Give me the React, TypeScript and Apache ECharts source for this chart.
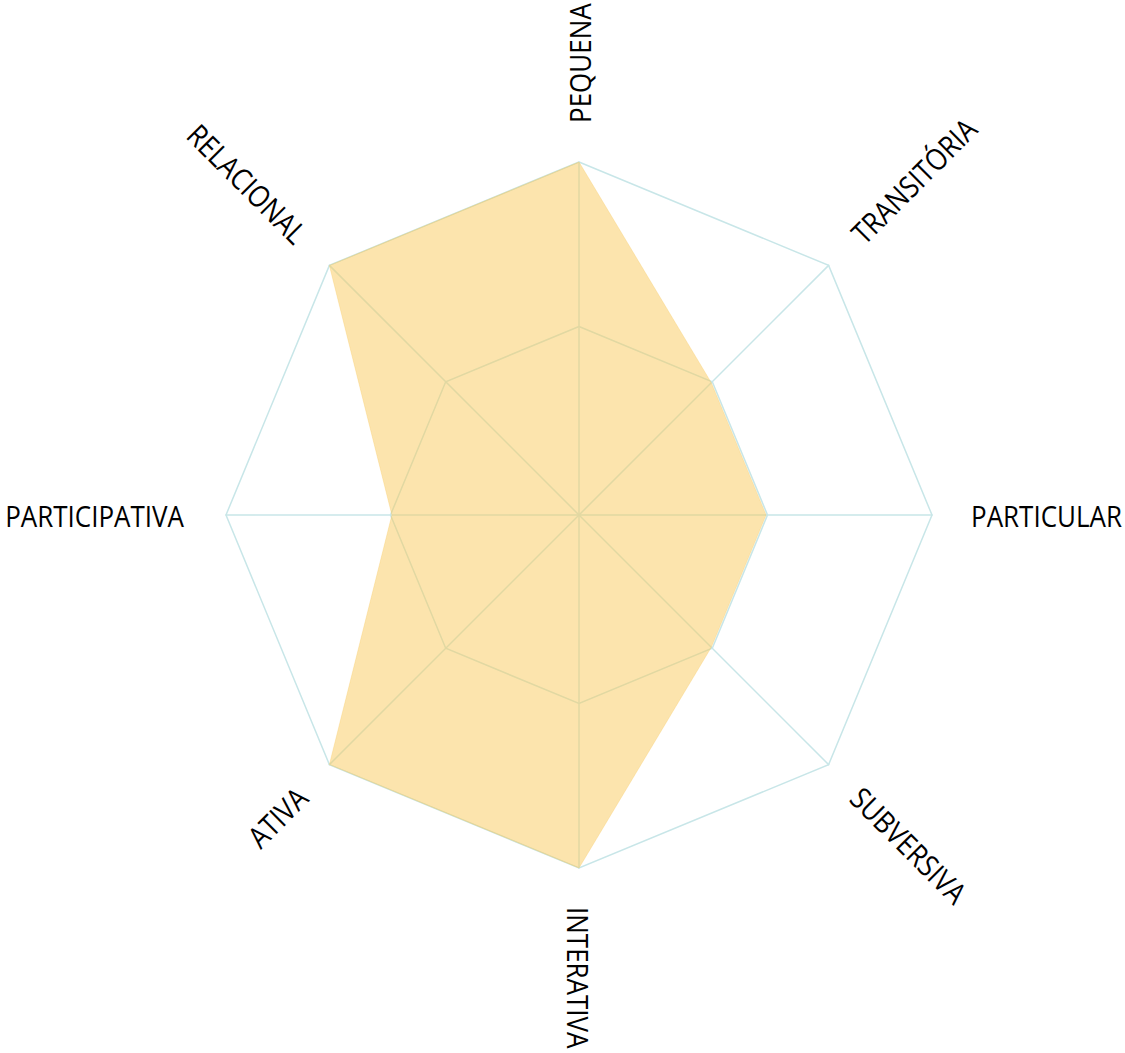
import React, { useEffect, useRef } from "react";
import * as echarts from "echarts";

// Indicators listed counter-clockwise starting from the top (ECharts radar order)
const indicators = [
  "PEQUENA",
  "RELACIONAL",
  "PARTICIPATIVA",
  "ATIVA",
  "INTERATIVA",
  "SUBVERSIVA",
  "PARTICULAR",
  "TRANSITÓRIA",
];
const values = [1, 1, 0.53, 1, 1, 0.53, 0.53, 0.53];
const axisMax = 1;
const innerRingValue = 0.534;

const CX = 579;
const CY = 515;
const R = 353;
const GAP = 39;
const GRID = "#c8e6e8";

export default function App() {
  const ref = useRef<HTMLDivElement>(null);
  useEffect(() => {
    if (!ref.current) return;
    const chart = echarts.init(ref.current, undefined, { renderer: "svg" });
    const n = indicators.length;
    const labels = indicators.map((name, i) => {
      const deg = 90 + (i * 360) / n;
      const rad = (deg * Math.PI) / 180;
      const c = Math.cos(rad);
      const gap = c < -0.9 ? GAP + 3 : GAP;
      const x = CX + (R + gap) * Math.cos(rad);
      const y = CY - (R + gap) * Math.sin(rad);
      const right = c > -1e-6;
      let rotDeg = right ? deg : deg - 180;
      if (rotDeg > 180) rotDeg -= 360;
      return {
        type: "text",
        x,
        y,
        rotation: (rotDeg * Math.PI) / 180,
        scaleY: 1.15,
        style: {
          text: name,
          fill: "#000",
          font: '26px "Open Sans"',
          align: right ? "left" : "right",
          verticalAlign: "middle",
        },
        silent: true,
      };
    });
    chart.setOption({
      animation: false,
      radar: [
        {
          center: [CX, CY],
          radius: R,
          startAngle: 90,
          shape: "polygon",
          splitNumber: 1,
          indicator: indicators.map((name) => ({ name, max: axisMax, min: 0 })),
          axisName: { show: false },
          axisLine: { lineStyle: { color: GRID, width: 1.5 } },
          splitLine: { lineStyle: { color: GRID, width: 1.5 } },
          splitArea: { show: false },
          axisTick: { show: false },
          axisLabel: { show: false },
        },
        {
          center: [CX, CY],
          radius: R * innerRingValue,
          startAngle: 90,
          shape: "polygon",
          splitNumber: 1,
          indicator: indicators.map((name) => ({ name, max: axisMax, min: 0 })),
          axisName: { show: false },
          axisLine: { show: false },
          splitLine: { lineStyle: { color: GRID, width: 1.5 } },
          splitArea: { show: false },
          axisTick: { show: false },
          axisLabel: { show: false },
        },
      ],
      series: [
        {
          type: "radar",
          radarIndex: 0,
          symbol: "none",
          silent: true,
          lineStyle: { color: "rgba(249,200,90,0.3)", width: 1 },
          areaStyle: { color: "rgba(250,202,92,0.5)", opacity: 1 },
          data: [{ value: values, name: "perfil" }],
        },
      ],
      graphic: labels,
    });
    return () => chart.dispose();
  }, []);
  return (
    <div
      ref={ref}
      style={{ position: "absolute", left: 0, top: 0, width: 1125, height: 1053 }}
    />
  );
}
